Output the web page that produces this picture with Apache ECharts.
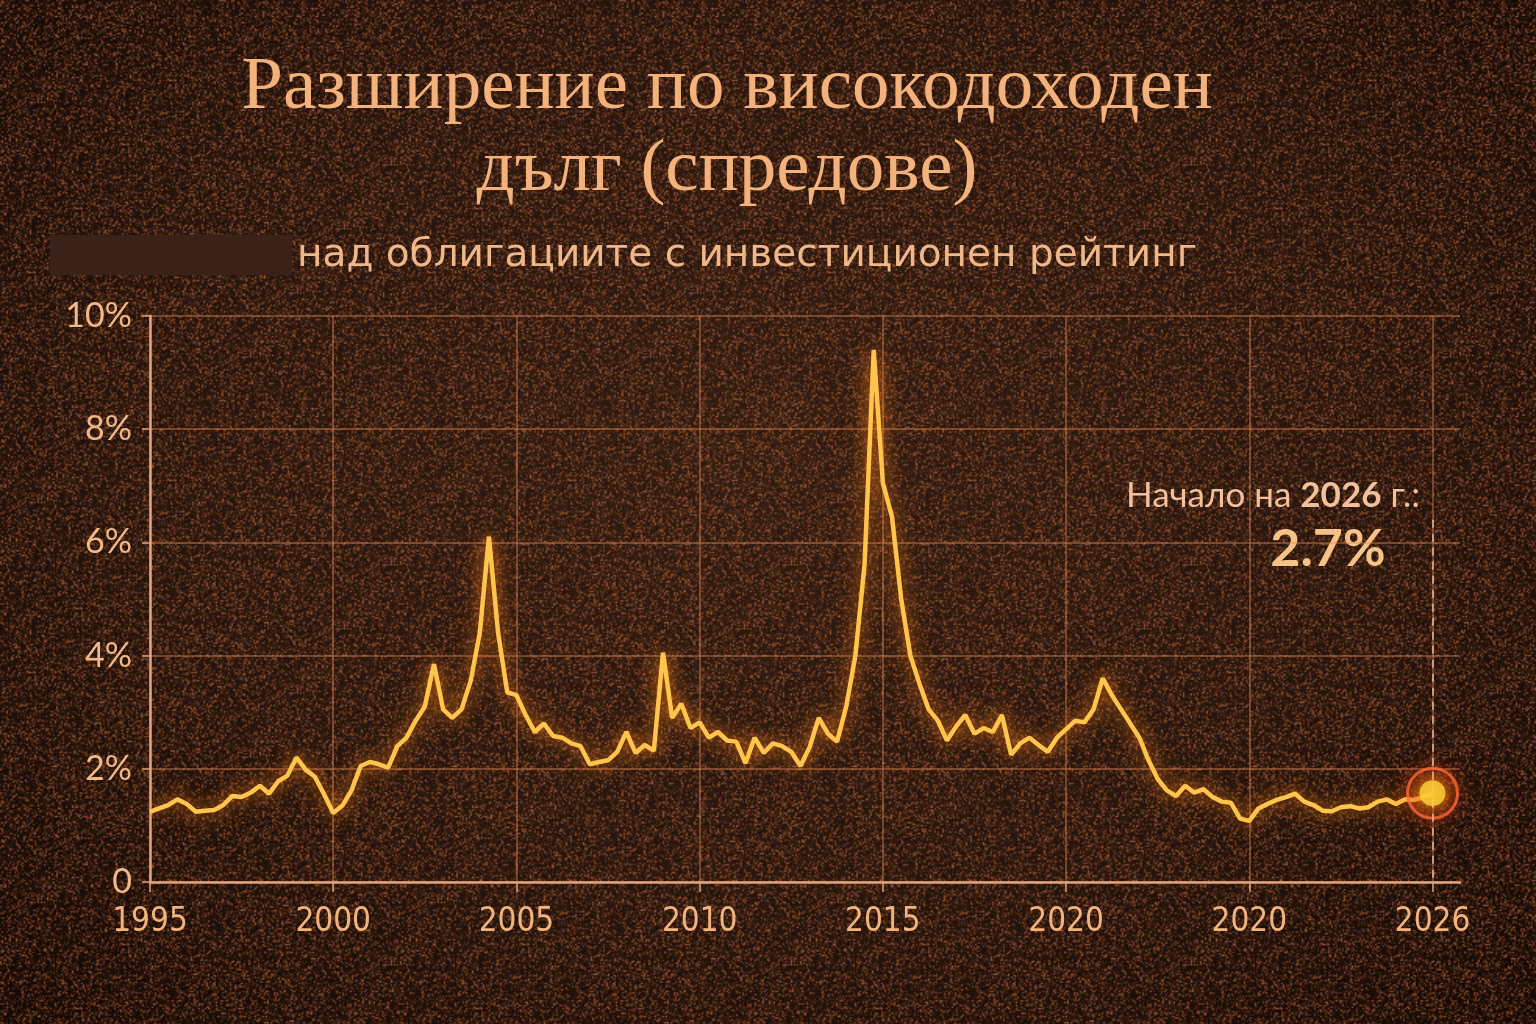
<!DOCTYPE html>
<html>
<head>
<meta charset="utf-8">
<script src="https://cdn.jsdelivr.net/npm/echarts@6/dist/echarts.min.js"></script>
<style>
    html, body { margin: 0; padding: 0; background: #1e110c; }
    #chart { width: 1536px; height: 1024px; }
</style>
</head>
<body>
<div id="chart"></div>
<script>
// подписи по оста X (както са в оригинала)
const tickLabels = ['1995', '2000', '2005', '2010', '2015', '2020', '2020', '2026']
// брой отчитания между два надписа
const STEP = 20
// спред в %, по 20 стойности за всеки интервал
const seg1995 = [1.24, 1.30, 1.36, 1.46, 1.38, 1.24, 1.26, 1.27, 1.36, 1.52, 1.50, 1.58, 1.70, 1.56, 1.78, 1.88, 2.20, 1.98, 1.86, 1.55]
const seg2000 = [1.22, 1.35, 1.62, 2.05, 2.12, 2.08, 2.02, 2.40, 2.55, 2.85, 3.10, 3.85, 3.05, 2.90, 3.05, 3.55, 4.40, 6.10, 4.40, 3.35]
const seg2005 = [3.30, 2.95, 2.65, 2.80, 2.58, 2.55, 2.45, 2.40, 2.08, 2.12, 2.15, 2.30, 2.65, 2.28, 2.42, 2.32, 4.05, 2.90, 3.15, 2.72]
const seg2010 = [2.82, 2.55, 2.65, 2.50, 2.48, 2.10, 2.55, 2.28, 2.45, 2.40, 2.30, 2.05, 2.38, 2.90, 2.62, 2.48, 3.10, 4.00, 5.60, 9.40]
const seg2015 = [7.05, 6.45, 5.00, 4.00, 3.50, 3.05, 2.85, 2.50, 2.75, 2.95, 2.62, 2.72, 2.65, 2.95, 2.25, 2.45, 2.55, 2.42, 2.30, 2.55]
const seg2020a = [2.70, 2.85, 2.82, 3.05, 3.60, 3.30, 3.05, 2.80, 2.55, 2.15, 1.82, 1.62, 1.52, 1.70, 1.58, 1.64, 1.50, 1.42, 1.40, 1.12]
const seg2020b = [1.08, 1.30, 1.38, 1.45, 1.50, 1.56, 1.42, 1.36, 1.26, 1.25, 1.32, 1.34, 1.30, 1.32, 1.42, 1.46, 1.38, 1.46, 1.45, 1.50]
const end2026 = [1.57]
// надписи в анотацията
const noteValue = '2.7%'

// празни места след 2026, за да продължи мрежата надясно
const padding = [null, null, null]

const values = [].concat(seg1995, seg2000, seg2005, seg2010, seg2015, seg2020a, seg2020b, end2026, padding)
const categories = values.map((v, i) => String(i))
const lastIndex = (tickLabels.length - 1) * STEP
const lastValue = values[lastIndex]

//фонова текстура (само декор)
function texture() {
    const size = 256
    const c = document.createElement('canvas')
    c.width = size
    c.height = size
    const ctx = c.getContext('2d')
    const img = ctx.createImageData(size, size)
    let s = 918273
    const next = () => {
        s = (s * 1103515245 + 12345) & 0x7fffffff
        return s / 0x7fffffff
    }
    for (let p = 0; p < size * size; p++) {
        const r = next()
        const k = r * r * r
        img.data[p * 4] = 170 + 80 * k
        img.data[p * 4 + 1] = 80 + 60 * k
        img.data[p * 4 + 2] = 40 + 40 * k
        img.data[p * 4 + 3] = 150 * k
    }
    ctx.putImageData(img, 0, 0)
    return c.toDataURL()
}
const chartDom = document.getElementById('chart')
chartDom.style.background =
    'url(' + texture() + ') 0 0 / 400px 400px, radial-gradient(ellipse at 50% 45%, #2e1b12 0%, #23140d 55%, #110805 100%)'

const showTick = (i) => i % STEP === 0 && i <= lastIndex

let myChart = echarts.init(chartDom)

const option = {
    backgroundColor: 'transparent',
    animation: false,
    grid: {
        left: 150,
        right: 76,
        top: 316,
        bottom: 142
    },
    xAxis: {
        type: 'category',
        data: categories,
        boundaryGap: false,
        axisLine: { lineStyle: { color: '#e3a47c', width: 2.5 } },
        axisTick: { interval: showTick, length: 10, lineStyle: { color: '#e3a47c', width: 1.5 } },
        axisLabel: {
            interval: showTick,
            formatter: (v) => tickLabels[Number(v) / STEP],
            color: '#f2b47e',
            fontFamily: "'DejaVu Sans Condensed', 'Noto Sans', sans-serif",
            fontSize: 33,
            margin: 24
        },
        splitLine: {
            show: true,
            interval: showTick,
            lineStyle: { color: 'rgba(226,136,86,0.55)', width: 1.5 }
        }
    },
    yAxis: {
        type: 'value',
        min: 0,
        max: 10,
        interval: 2,
        axisLine: { show: true, lineStyle: { color: '#e3a47c', width: 2.5 } },
        axisTick: { show: true, length: 8, lineStyle: { color: '#e3a47c', width: 1.5 } },
        axisLabel: {
            formatter: (v) => (v === 0 ? '0' : v + '%'),
            color: '#f2b888',
            fontFamily: 'Lato',
            fontSize: 34,
            margin: 18
        },
        splitLine: { lineStyle: { color: 'rgba(226,136,86,0.55)', width: 1.5 } }
    },
    series: [
        {
            type: 'line',
            data: values,
            showSymbol: false,
            connectNulls: false,
            lineStyle: {
                color: '#ffc44c',
                width: 4.5,
                shadowColor: 'rgba(255,130,20,1)',
                shadowBlur: 18
            },
            markLine: {
                silent: true,
                symbol: 'none',
                label: { show: false },
                lineStyle: { type: [8, 6], color: '#ecb894', width: 1.5 },
                data: [[{ coord: [String(lastIndex), 6.4] }, { coord: [String(lastIndex), 0] }]]
            },
            z: 3
        },
        {
            // кръгът около последната точка
            type: 'scatter',
            data: [[lastIndex, lastValue]],
            symbolSize: 50,
            itemStyle: {
                color: 'rgba(200,50,20,0.22)',
                borderColor: '#ff6a38',
                borderWidth: 3,
                shadowColor: '#ff4a1a',
                shadowBlur: 18
            },
            z: 4
        },
        {
            type: 'scatter',
            data: [[lastIndex, lastValue]],
            symbolSize: 26,
            itemStyle: {
                color: '#ffd23e',
                shadowColor: '#ffb000',
                shadowBlur: 14
            },
            z: 5
        }
    ],
    graphic: [
        {
            type: 'text',
            x: 727,
            y: 47,
            style: {
                text: 'Разширение по високодоходен\nдълг (спредове)',
                fontFamily: 'Liberation Serif',
                fontSize: 75,
                lineHeight: 82,
                fill: '#f3b27c',
                align: 'center',
                verticalAlign: 'top'
            }
        },
        {
            type: 'rect',
            shape: { x: 50, y: 235, width: 242, height: 40 },
            style: { fill: '#3b2219' }
        },
        {
            type: 'text',
            x: 297,
            y: 256,
            style: {
                text: 'над облигациите с инвестиционен рейтинг',
                fontFamily: 'DejaVu Sans',
                fontSize: 39,
                fill: '#f0b888',
                verticalAlign: 'middle'
            }
        },
        {
            type: 'text',
            x: 1420,
            y: 496,
            style: {
                text: '{a|Начало на }{b|2026}{a| г.:}',
                align: 'right',
                verticalAlign: 'middle',
                rich: {
                    a: { fontFamily: 'Lato', fontSize: 35, fill: '#f2c09a' },
                    b: { fontFamily: 'Lato', fontSize: 35, fontWeight: 'bold', fill: '#f2c09a' }
                }
            }
        },
        {
            type: 'text',
            x: 1328,
            y: 549,
            style: {
                text: noteValue,
                fontFamily: 'Lato',
                fontSize: 52,
                fontWeight: 'bold',
                fill: '#f6c285',
                align: 'center',
                verticalAlign: 'middle'
            }
        }
    ]
}

myChart.setOption(option)
window.onresize = function () {
    myChart.resize()
}
</script>
</body>
</html>
